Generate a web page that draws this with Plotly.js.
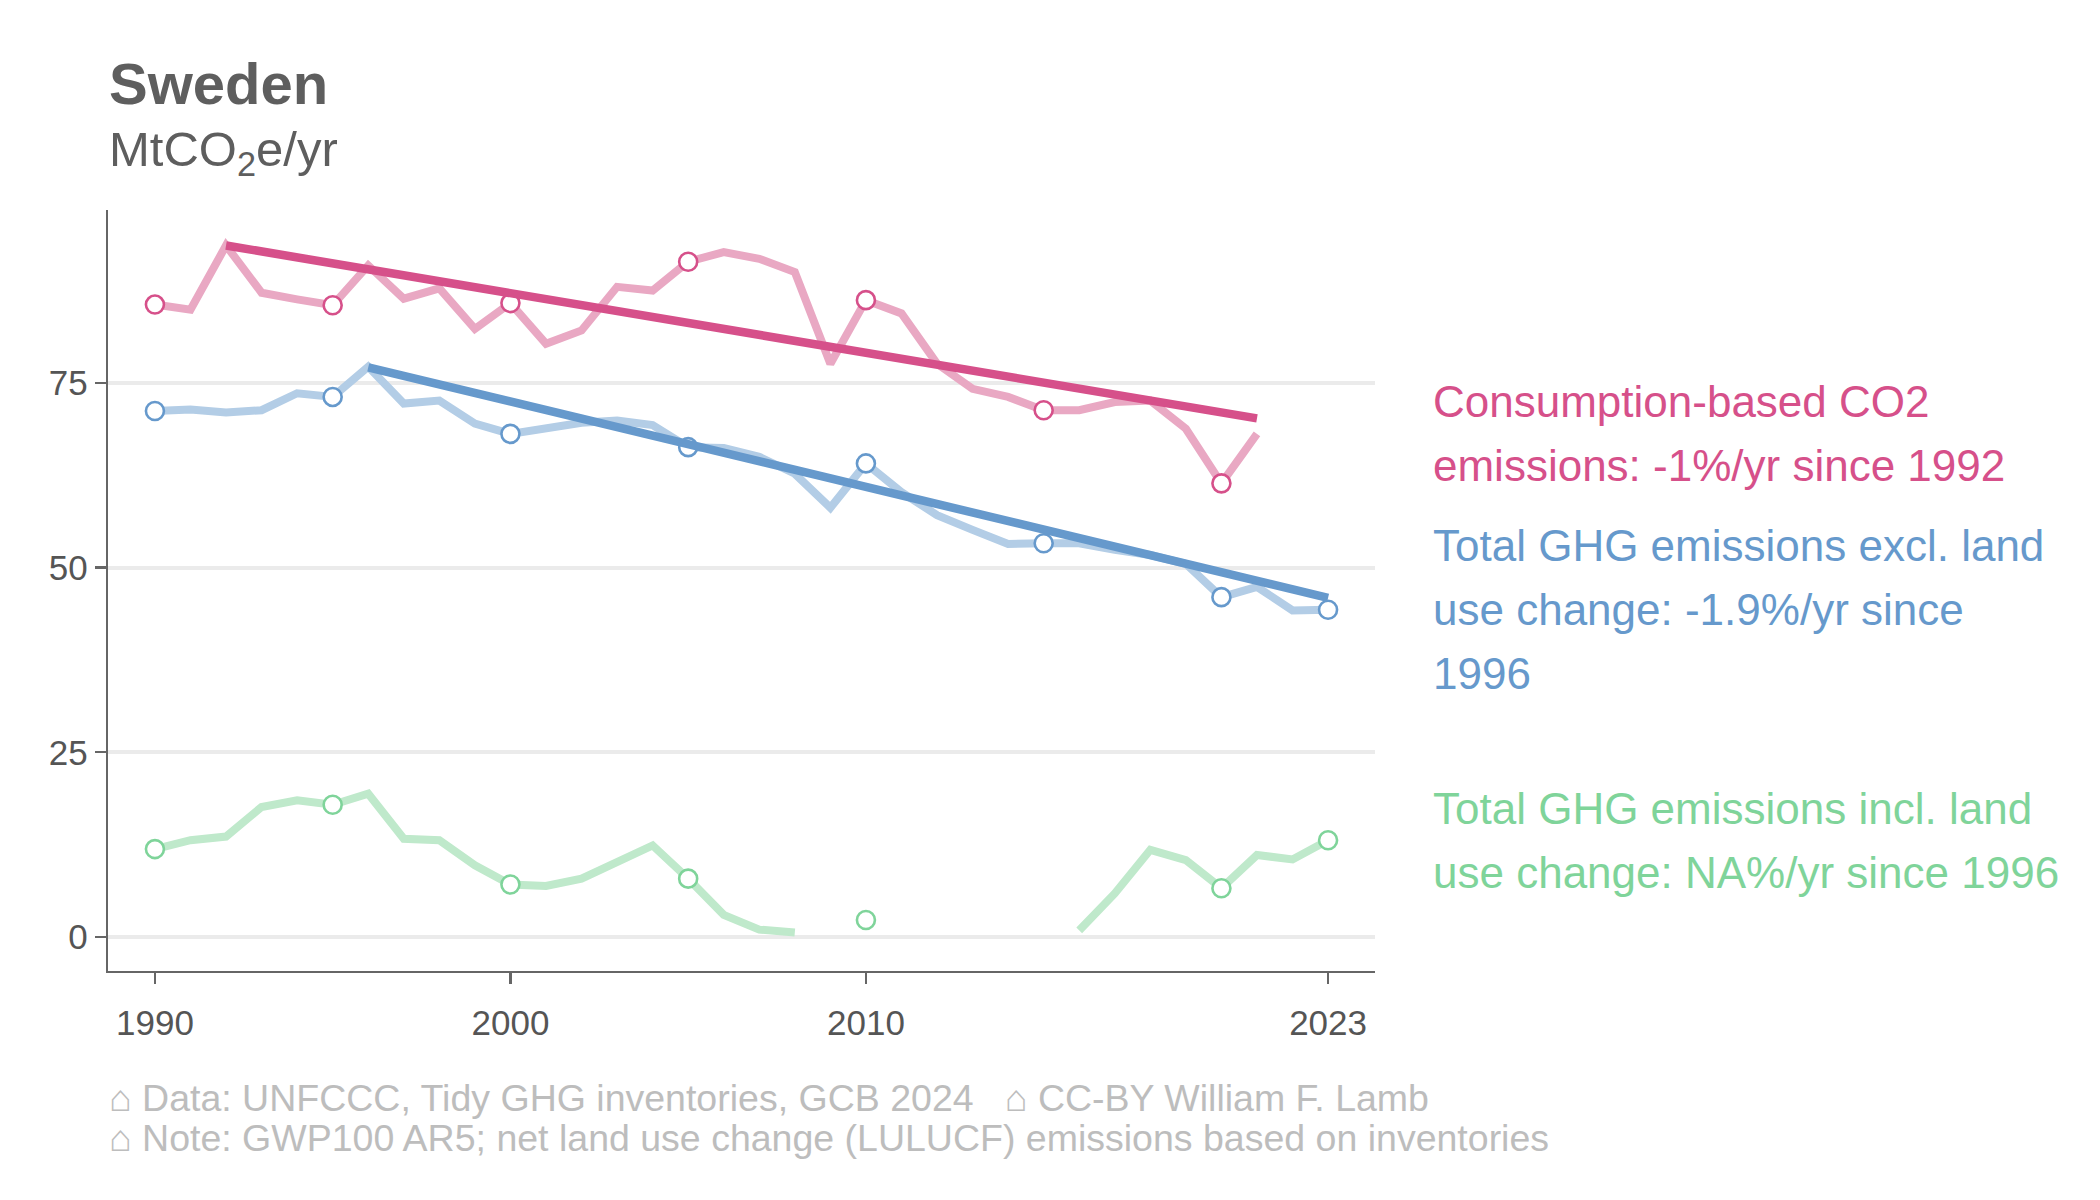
<!DOCTYPE html>
<html>
<head>
<meta charset="utf-8">
<script src="https://cdn.plot.ly/plotly-3.0.1.min.js"></script>
<style>
  html, body { margin: 0; padding: 0; background: #ffffff; }
  #chart { width: 2100px; height: 1200px; }
</style>
</head>
<body>
<div id="chart"></div>
<script>
// ---------------- data ----------------
const years = [1990,1991,1992,1993,1994,1995,1996,1997,1998,1999,
               2000,2001,2002,2003,2004,2005,2006,2007,2008,2009,
               2010,2011,2012,2013,2014,2015,2016,2017,2018,2019,
               2020,2021,2022,2023];

const consumptionCO2 = [85.6,84.9,93.6,87.2,86.3,85.5,90.9,86.4,87.8,82.3,
                        85.8,80.3,82.1,88.0,87.5,91.4,92.7,91.8,90.0,77.6,
                        86.2,84.4,77.6,74.2,73.1,71.3,71.3,72.4,72.6,68.8,
                        61.4,68.1,null,null];

const ghgExclLUC = [71.2,71.4,71.0,71.3,73.6,73.1,77.2,72.2,72.6,69.5,
                    68.1,68.8,69.6,69.9,69.3,66.3,66.2,65.0,62.7,58.1,
                    64.1,60.2,57.1,55.1,53.2,53.3,53.3,52.4,51.7,50.5,
                    46.0,47.4,44.2,44.3];

const ghgInclLUC = [11.9,13.1,13.6,17.6,18.5,17.9,19.4,13.3,13.1,9.7,
                    7.1,6.9,7.9,10.1,12.4,7.9,3.0,1.0,0.6,null,
                    2.3,null,null,null,null,null,0.9,5.9,11.8,10.4,
                    6.6,11.1,10.5,13.1];

// trend lines (start / end)
const consTrendYears = [1992, 2021];
const consTrendValues = [93.6, 70.2];
const exclTrendYears = [1996, 2023];
const exclTrendValues = [77.1, 45.9];

const markerYears = [1990,1995,2000,2005,2010,2015,2020,2023];

const xTickVals = [1990, 2000, 2010, 2023];
const xTickText = ['1990', '2000', '2010', '2023'];
const yTickVals = [0, 25, 50, 75];
const yTickText = ['0', '25', '50', '75'];

const labelCons = ['Consumption-based CO2', 'emissions: -1%/yr since 1992'];
const labelExcl = ['Total GHG emissions excl. land', 'use change: -1.9%/yr since', '1996'];
const labelIncl = ['Total GHG emissions incl. land', 'use change: NA%/yr since 1996'];

const titleText = 'Sweden';
const subtitleText = 'MtCO<sub>2</sub>e/yr';
const captionLines = ['\u2302 Data: UNFCCC, Tidy GHG inventories, GCB 2024   \u2302 CC-BY William F. Lamb',
                      '\u2302 Note: GWP100 AR5; net land use change (LULUCF) emissions based on inventories'];

// ---------------- styles ----------------
const FONT = 'Liberation Sans, Arial, Helvetica, sans-serif';
const C = {
  consDark: '#d6508a', consLight: '#e9a8c3',
  exclDark: '#6699cc', exclLight: '#b3cde6',
  inclDark: '#7fd49a', inclLight: '#bfe9cb',
  axis: '#666666', grid: '#ebebeb', tick: '#555555', caption: '#bdbdbd', title: '#5e5e5e'
};

function pick(series, yrs) {
  const xs = [], ys = [];
  yrs.forEach(y => {
    const i = years.indexOf(y);
    if (i >= 0 && series[i] !== null && series[i] !== undefined) { xs.push(y); ys.push(series[i]); }
  });
  return {x: xs, y: ys};
}
function lastValue(series) {
  for (let i = series.length - 1; i >= 0; i--) if (series[i] !== null) return series[i];
  return null;
}

function lightLine(series, color) {
  return {x: years, y: series, type: 'scatter', mode: 'lines', connectgaps: false,
          line: {color: color, width: 8}, hoverinfo: 'skip', showlegend: false};
}
function markers(series, color) {
  const p = pick(series, markerYears);
  return {x: p.x, y: p.y, type: 'scatter', mode: 'markers',
          marker: {symbol: 'circle', size: 18, color: '#ffffff', line: {color: color, width: 2.6}},
          hoverinfo: 'skip', showlegend: false};
}
function trend(xs, ys, color) {
  return {x: xs, y: ys, type: 'scatter', mode: 'lines',
          line: {color: color, width: 8.5}, hoverinfo: 'skip', showlegend: false};
}

const traces = [
  lightLine(consumptionCO2, C.consLight),
  lightLine(ghgExclLUC, C.exclLight),
  lightLine(ghgInclLUC, C.inclLight),
  markers(consumptionCO2, C.consDark),
  markers(ghgExclLUC, C.exclDark),
  markers(ghgInclLUC, C.inclDark),
  trend(consTrendYears, consTrendValues, C.consDark),
  trend(exclTrendYears, exclTrendValues, C.exclDark)
];

// ---------------- annotations ----------------
const LBL_X = 1.0445;
const LINE_GAP = 64;
function labelBlock(lines, yVal, color) {
  const n = lines.length;
  return lines.map((t, k) => ({
    xref: 'paper', yref: 'y', x: LBL_X, y: yVal,
    yshift: ((n - 1) / 2 - k) * LINE_GAP,
    xanchor: 'left', yanchor: 'middle', align: 'left', showarrow: false,
    text: t, font: {family: FONT, size: 44, color: color}
  }));
}

const annotations = [].concat(
  labelBlock(labelCons, lastValue(consumptionCO2), C.consDark),
  labelBlock(labelExcl, lastValue(ghgExclLUC), C.exclDark),
  labelBlock(labelIncl, lastValue(ghgInclLUC), C.inclDark),
  [
    {xref: 'paper', yref: 'paper', x: -0.001, y: 1.075, xanchor: 'left', yanchor: 'middle',
     showarrow: false, text: subtitleText, font: {family: FONT, size: 49, color: C.title}},
    {xref: 'paper', yref: 'paper', x: -0.001, y: -0.167, xanchor: 'left', yanchor: 'middle',
     showarrow: false, text: captionLines[0], font: {family: FONT, size: 37.5, color: C.caption}},
    {xref: 'paper', yref: 'paper', x: -0.001, y: -0.219, xanchor: 'left', yanchor: 'middle',
     showarrow: false, text: captionLines[1], font: {family: FONT, size: 37.5, color: C.caption}}
  ]
);

const layout = {
  width: 2100, height: 1200,
  margin: {l: 108, r: 725, t: 210, b: 229, pad: 0},
  paper_bgcolor: '#ffffff', plot_bgcolor: '#ffffff',
  title: {text: '<b>' + titleText + '</b>', xref: 'container', yref: 'container',
          x: 109 / 2100, xanchor: 'left', y: 1 - 84 / 1200, yanchor: 'middle',
          font: {family: FONT, size: 58, color: C.title}},
  xaxis: {
    range: [1988.68, 2024.32], tickmode: 'array', tickvals: xTickVals, ticktext: xTickText,
    showgrid: false, zeroline: false, showline: true, linecolor: C.axis, linewidth: 2.3,
    ticks: 'outside', ticklen: 11, tickwidth: 2.3, tickcolor: C.axis, ticklabelstandoff: 9,
    tickfont: {family: FONT, size: 35, color: C.tick}, fixedrange: true
  },
  yaxis: {
    range: [-4.6, 98.4], tickmode: 'array', tickvals: yTickVals, ticktext: yTickText,
    showgrid: true, gridcolor: C.grid, gridwidth: 4, zeroline: false,
    showline: true, linecolor: C.axis, linewidth: 2.3,
    ticks: 'outside', ticklen: 11, tickwidth: 2.3, tickcolor: C.axis, ticklabelstandoff: 0,
    tickfont: {family: FONT, size: 35, color: C.tick}, fixedrange: true
  },
  annotations: annotations,
  showlegend: false
};

Plotly.newPlot('chart', traces, layout, {staticPlot: true, displayModeBar: false});
</script>
</body>
</html>
